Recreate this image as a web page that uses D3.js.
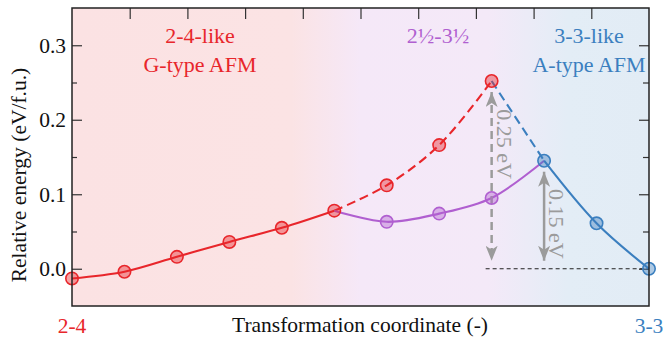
<!DOCTYPE html>
<html>
<head>
<meta charset="utf-8">
<script src="https://cdn.jsdelivr.net/npm/d3@7/dist/d3.min.js"></script>
<style>
  html, body { margin: 0; padding: 0; background: #fff; }
  svg { display: block; }
  text { font-family: "Liberation Serif", "Times New Roman", serif; }
</style>
</head>
<body>
<svg id="chart" width="663" height="337"></svg>
<script>
// Reaction path: step index along the transformation coordinate and relative energy (eV/f.u.)
const redSolidX = [0, 1, 2, 3, 4, 5];
const redSolidE = [-0.013, -0.004, 0.016, 0.036, 0.055, 0.078];
const redDashX = [5, 6, 7, 8];
const redDashE = [0.078, 0.112, 0.166, 0.252];
const purpleX = [5, 6, 7, 8, 9];
const purpleE = [0.078, 0.063, 0.074, 0.095, 0.145];
const blueDashX = [8, 9];
const blueDashE = [0.252, 0.145];
const blueSolidX = [9, 10, 11];
const blueSolidE = [0.145, 0.061, 0.000];

// Energy barriers (arrow drawn from the zero reference up to the state energy)
const barrierX = [8, 9];
const barrierE = [0.252, 0.145];
const barrierLabels = ["0.25 eV", "0.15 eV"];
const barrierDashed = [true, false];

const yTicks = [0.0, 0.1, 0.2, 0.3];
const yMinorTicks = [0.05, 0.15, 0.25];
const endLabels = ["2-4", "3-3"];

const RED = "#e8262b", PURPLE = "#b05fd0", BLUE = "#3b7fbf", GRAY = "#9b9b9b";

const svg = d3.select("#chart");
const L = 72, R = 649, T = 8, B = 306;

const x = d3.scaleLinear().domain([0, 11]).range([L, R]);
const y = d3.scaleLinear().domain([-0.05, 0.35]).range([B, T]);
const xFrac = d3.scaleLinear().domain([0, 1]).range([L, R]);

// Background: regions blend from pink (2-4) through lavender to light blue (3-3)
const defs = svg.append("defs");
const grad = defs.append("linearGradient").attr("id", "bg")
  .attr("x1", "0%").attr("x2", "100%").attr("y1", "0%").attr("y2", "0%");
[[0, "#fbe2e3"], [0.38, "#fbe3e4"], [0.5, "#f5e8f8"], [0.72, "#f4e9f8"], [0.86, "#e3edf6"], [1, "#e2ecf5"]]
  .forEach(([o, c]) => grad.append("stop").attr("offset", o).attr("stop-color", c));

svg.append("rect").attr("x", L).attr("y", T).attr("width", R - L).attr("height", B - T)
  .attr("fill", "url(#bg)");

// Arrowhead marker
defs.append("marker").attr("id", "head")
  .attr("viewBox", "0 -6 15 12").attr("refX", 15).attr("refY", 0)
  .attr("markerUnits", "userSpaceOnUse").attr("markerWidth", 15).attr("markerHeight", 12)
  .attr("orient", "auto-start-reverse")
  .append("path").attr("d", "M0,-6 L15,0 L0,6 L4,0 Z").attr("fill", GRAY);

// Axes
const gLeft = svg.append("g").attr("transform", `translate(${L},0)`)
  .call(d3.axisLeft(y).tickValues(yTicks).tickSize(-10).tickPadding(6).tickFormat(d3.format(".1f")));
svg.append("g").attr("transform", `translate(${L},0)`)
  .call(d3.axisLeft(y).tickValues(yMinorTicks).tickSize(-5).tickFormat(""));
svg.append("g").attr("transform", `translate(${R},0)`)
  .call(d3.axisRight(y).tickValues(yTicks).tickSize(-10).tickFormat(""));
svg.append("g").attr("transform", `translate(${R},0)`)
  .call(d3.axisRight(y).tickValues(yMinorTicks).tickSize(-6).tickFormat(""));
svg.append("g").attr("class", "top-axis").attr("transform", `translate(0,${T})`)
  .call(d3.axisTop(xFrac).ticks(10).tickSize(-11).tickFormat(""));

svg.selectAll(".domain").remove();
svg.selectAll(".tick line").attr("stroke", "#333").attr("stroke-width", 1.2);
gLeft.selectAll(".tick text").attr("font-size", 21.5).attr("fill", "#111")
  .attr("font-family", "Liberation Serif, serif");
svg.select(".top-axis").selectAll(".tick").filter(d => d === 0 || d === 1).remove();

// Zero reference line
svg.append("line")
  .attr("x1", x(8) - 6).attr("x2", x(11)).attr("y1", y(0)).attr("y2", y(0))
  .attr("stroke", "#222").attr("stroke-width", 1.1).attr("stroke-dasharray", "4,3");

// Curves
const line = d3.line().x(d => x(d[0])).y(d => y(d[1])).curve(d3.curveCatmullRom.alpha(0.5));
const series = [
  [redSolidX, redSolidE, RED, null],
  [redDashX, redDashE, RED, "9,5"],
  [purpleX, purpleE, PURPLE, null],
  [blueDashX, blueDashE, BLUE, "9,5"],
  [blueSolidX, blueSolidE, BLUE, null]
];
series.forEach(([xs, es, c, dash]) => {
  svg.append("path").datum(d3.zip(xs, es))
    .attr("d", line).attr("fill", "none").attr("stroke", c).attr("stroke-width", 2.1)
    .attr("stroke-dasharray", dash);
});

// Barrier arrows with rotated labels
barrierX.forEach((bx, i) => {
  svg.append("line")
    .attr("x1", x(bx)).attr("x2", x(bx))
    .attr("y1", y(barrierE[i]) + 11).attr("y2", y(0) - 8)
    .attr("stroke", GRAY).attr("stroke-width", 2.5)
    .attr("stroke-dasharray", barrierDashed[i] ? "8,5" : null)
    .attr("marker-start", "url(#head)").attr("marker-end", "url(#head)");
  svg.append("text")
    .attr("transform", `translate(${x(bx) + 5},${y(barrierE[i]) + 63}) rotate(90)`)
    .attr("text-anchor", "middle").attr("font-size", 22).attr("fill", GRAY)
    .text(barrierLabels[i]);
});

// Markers
const markers = [
  [redSolidX.concat(redDashX.slice(1)), redSolidE.concat(redDashE.slice(1)), RED],
  [purpleX.slice(1, 4), purpleE.slice(1, 4), PURPLE],
  [blueSolidX, blueSolidE, BLUE]
];
markers.forEach(([xs, es, c]) => {
  svg.append("g").selectAll("circle").data(d3.zip(xs, es)).join("circle")
    .attr("cx", d => x(d[0])).attr("cy", d => y(d[1])).attr("r", 6.2)
    .attr("fill", c).attr("fill-opacity", 0.42)
    .attr("stroke", c).attr("stroke-width", 1.6);
});

// Frame
svg.append("rect").attr("x", L).attr("y", T).attr("width", R - L).attr("height", B - T)
  .attr("fill", "none").attr("stroke", "#222").attr("stroke-width", 1.5);

// Region labels
const regionText = (cx, lines, c) => {
  lines.forEach((s, i) => {
    svg.append("text").attr("x", cx).attr("y", 43 + i * 29)
      .attr("text-anchor", "middle").attr("font-size", 22).attr("fill", c).text(s);
  });
};
regionText(200, ["2-4-like", "G-type AFM"], RED);
regionText(438, ["2½-3½"], PURPLE);
regionText(589, ["3-3-like", "A-type AFM"], BLUE);

// Axis titles and end-point labels
svg.append("text").attr("transform", `translate(26,${(T + B) / 2 + 18}) rotate(-90)`)
  .attr("text-anchor", "middle").attr("font-size", 21.5).attr("fill", "#111")
  .text("Relative energy (eV/f.u.)");
svg.append("text").attr("x", 360).attr("y", 332)
  .attr("text-anchor", "middle").attr("font-size", 21.5).attr("fill", "#111")
  .text("Transformation coordinate (-)");
svg.append("text").attr("x", x(0)).attr("y", 333).attr("text-anchor", "middle")
  .attr("font-size", 21.5).attr("fill", RED).text(endLabels[0]);
svg.append("text").attr("x", x(11)).attr("y", 333).attr("text-anchor", "middle")
  .attr("font-size", 21.5).attr("fill", BLUE).text(endLabels[1]);
</script>
</body>
</html>
